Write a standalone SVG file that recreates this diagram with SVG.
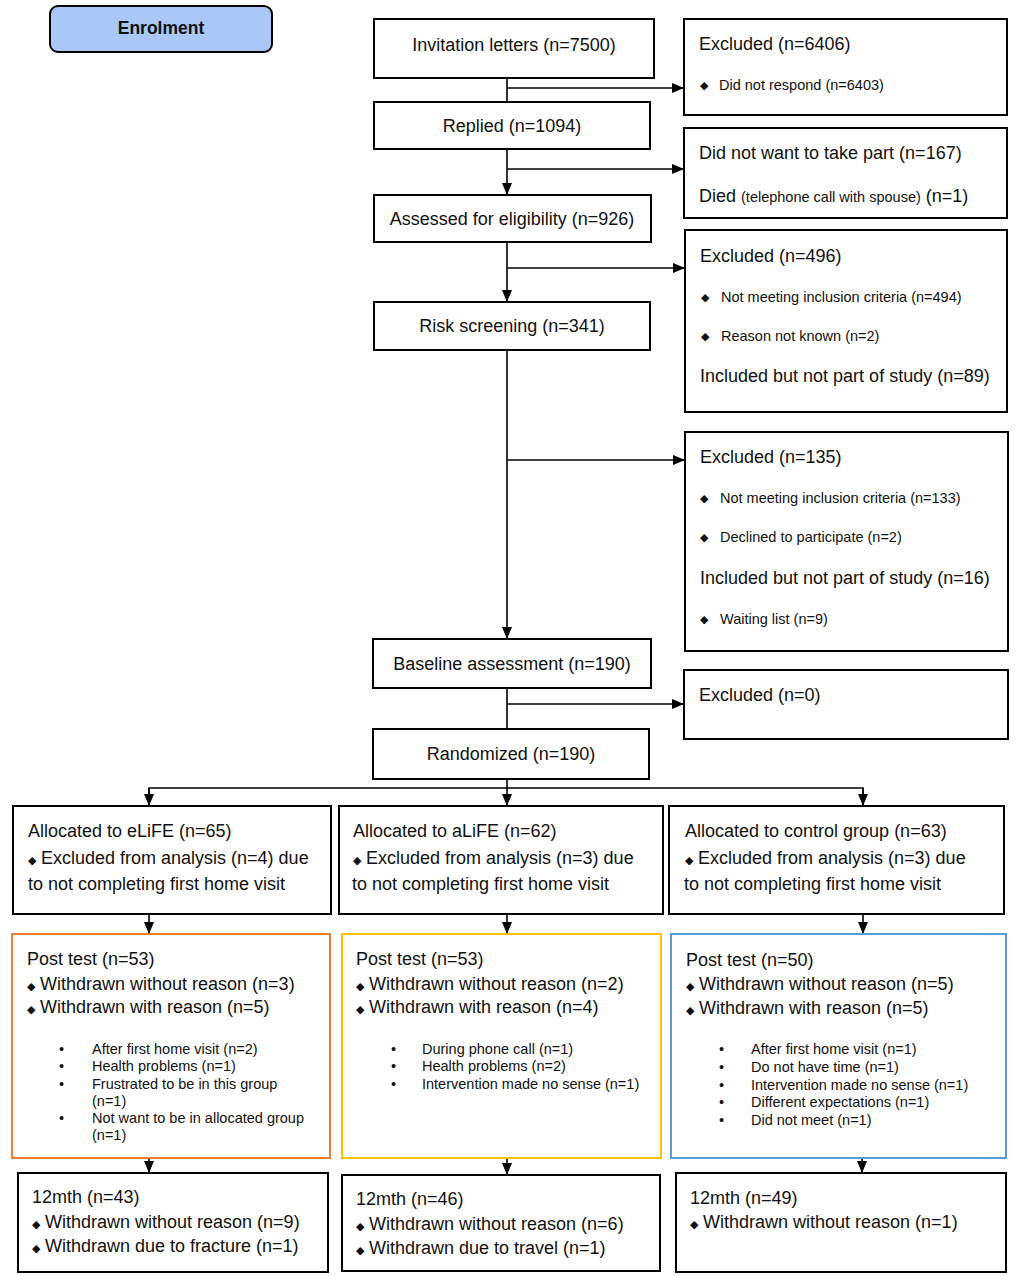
<svg xmlns="http://www.w3.org/2000/svg" width="1015" height="1276" viewBox="0 0 1015 1276">
<defs>
<marker id="arr" markerUnits="userSpaceOnUse" markerWidth="12" markerHeight="10" refX="12" refY="5" orient="auto">
<path d="M0,0 L12,5 L0,10 z" fill="#000"/>
</marker>
<style>
.box{fill:#fff;stroke:#000;stroke-width:2}
.t{font-family:"Liberation Sans",Arial,sans-serif;font-size:18px;fill:#111}
.s{font-family:"Liberation Sans",Arial,sans-serif;font-size:14.5px;fill:#111}
.d{font-size:11px}
.c{text-anchor:middle}
.ln{stroke:#000;stroke-width:1.6;fill:none}
</style>
</defs>
<rect width="1015" height="1276" fill="#fff"/>

<g id="enrolment">
<rect x="50" y="6" width="222" height="46" rx="8" fill="#a9c8f8" stroke="#000" stroke-width="2"/>
<text x="161" y="34" class="c" style="font-family:'Liberation Sans',Arial,sans-serif;font-size:17.5px;font-weight:bold;fill:#111">Enrolment</text>
</g>

<g id="connectors">
<line class="ln" x1="507" y1="78" x2="507" y2="102"/>
<line class="ln" x1="507" y1="88" x2="684" y2="88" marker-end="url(#arr)"/>
<line class="ln" x1="507" y1="149" x2="507" y2="195" marker-end="url(#arr)"/>
<line class="ln" x1="507" y1="169" x2="684" y2="169" marker-end="url(#arr)"/>
<line class="ln" x1="507" y1="242" x2="507" y2="302" marker-end="url(#arr)"/>
<line class="ln" x1="507" y1="268" x2="685" y2="268" marker-end="url(#arr)"/>
<line class="ln" x1="507" y1="350" x2="507" y2="639" marker-end="url(#arr)"/>
<line class="ln" x1="507" y1="460" x2="685" y2="460" marker-end="url(#arr)"/>
<line class="ln" x1="507" y1="688" x2="507" y2="729"/>
<line class="ln" x1="507" y1="704" x2="684" y2="704" marker-end="url(#arr)"/>
<line class="ln" x1="507" y1="779" x2="507" y2="806" marker-end="url(#arr)"/>
<polyline class="ln" points="149,806 149,788 863,788 863,806"/>
<line class="ln" x1="149" y1="788" x2="149" y2="806" marker-end="url(#arr)"/>
<line class="ln" x1="863" y1="788" x2="863" y2="806" marker-end="url(#arr)"/>
<line class="ln" x1="149" y1="914" x2="149" y2="934" marker-end="url(#arr)"/>
<line class="ln" x1="507" y1="914" x2="507" y2="934" marker-end="url(#arr)"/>
<line class="ln" x1="863" y1="914" x2="863" y2="934" marker-end="url(#arr)"/>
<line class="ln" x1="149" y1="1158" x2="149" y2="1173" marker-end="url(#arr)"/>
<line class="ln" x1="507" y1="1158" x2="507" y2="1175" marker-end="url(#arr)"/>
<line class="ln" x1="862" y1="1158" x2="862" y2="1173" marker-end="url(#arr)"/>
</g>

<g id="invitation">
<rect class="box" x="374" y="19" width="280" height="59"/>
<text class="t c" x="514" y="51">Invitation letters (n=7500)</text>
</g>
<g id="replied">
<rect class="box" x="374" y="102" width="276" height="47"/>
<text class="t c" x="512" y="132">Replied (n=1094)</text>
</g>
<g id="assessed">
<rect class="box" x="374" y="195" width="277" height="47"/>
<text class="t c" x="512" y="225">Assessed for eligibility (n=926)</text>
</g>
<g id="risk">
<rect class="box" x="374" y="302" width="276" height="48"/>
<text class="t c" x="512" y="332">Risk screening (n=341)</text>
</g>
<g id="baseline">
<rect class="box" x="373" y="639" width="278" height="49"/>
<text class="t c" x="512" y="670">Baseline assessment (n=190)</text>
</g>
<g id="randomized">
<rect class="box" x="373" y="729" width="276" height="50"/>
<text class="t c" x="511" y="760">Randomized (n=190)</text>
</g>

<g id="excl6406">
<rect class="box" x="684" y="19" width="323" height="96"/>
<text class="t" x="699" y="50">Excluded (n=6406)</text>
<text class="s d" x="700" y="89">◆</text>
<text class="s" x="719" y="90">Did not respond (n=6403)</text>
</g>
<g id="didnotwant">
<rect class="box" x="684" y="128" width="323" height="90"/>
<text class="t" x="699" y="159">Did not want to take part (n=167)</text>
<text class="t" x="699" y="202">Died <tspan style="font-size:14.5px">(telephone call with spouse)</tspan> (n=1)</text>
</g>
<g id="excl496">
<rect class="box" x="685" y="230" width="322" height="182"/>
<text class="t" x="700" y="262">Excluded (n=496)</text>
<text class="s d" x="701" y="301">◆</text>
<text class="s" x="721" y="302">Not meeting inclusion criteria (n=494)</text>
<text class="s d" x="701" y="340">◆</text>
<text class="s" x="721" y="341">Reason not known (n=2)</text>
<text class="t" x="700" y="382">Included but not part of study (n=89)</text>
</g>
<g id="excl135">
<rect class="box" x="685" y="432" width="323" height="219"/>
<text class="t" x="700" y="463">Excluded (n=135)</text>
<text class="s d" x="700" y="502">◆</text>
<text class="s" x="720" y="503">Not meeting inclusion criteria (n=133)</text>
<text class="s d" x="700" y="541">◆</text>
<text class="s" x="720" y="542">Declined to participate (n=2)</text>
<text class="t" x="700" y="584">Included but not part of study (n=16)</text>
<text class="s d" x="700" y="623">◆</text>
<text class="s" x="720" y="624">Waiting list (n=9)</text>
</g>
<g id="excl0">
<rect class="box" x="684" y="670" width="324" height="69"/>
<text class="t" x="699" y="701">Excluded (n=0)</text>
</g>

<g id="alloc-elife">
<rect class="box" x="13" y="806" width="318" height="108"/>
<text class="t" x="28" y="837">Allocated to eLiFE (n=65)</text>
<text class="t" x="28" y="864"><tspan class="d">◆</tspan> Excluded from analysis (n=4) due</text>
<text class="t" x="28" y="890">to not completing first home visit</text>
</g>
<g id="alloc-alife">
<rect class="box" x="339" y="806" width="324" height="108"/>
<text class="t" x="353" y="837">Allocated to aLiFE (n=62)</text>
<text class="t" x="353" y="864"><tspan class="d">◆</tspan> Excluded from analysis (n=3) due</text>
<text class="t" x="352" y="890">to not completing first home visit</text>
</g>
<g id="alloc-control">
<rect class="box" x="669" y="806" width="335" height="108"/>
<text class="t" x="685" y="837">Allocated to control group (n=63)</text>
<text class="t" x="685" y="864"><tspan class="d">◆</tspan> Excluded from analysis (n=3) due</text>
<text class="t" x="684" y="890">to not completing first home visit</text>
</g>

<g id="post-elife">
<rect x="12" y="934" width="318" height="224" fill="#fff" stroke="#ed7d31" stroke-width="2"/>
<text class="t" x="27" y="965">Post test (n=53)</text>
<text class="t" x="27" y="990"><tspan class="d">◆</tspan> Withdrawn without reason (n=3)</text>
<text class="t" x="27" y="1013"><tspan class="d">◆</tspan> Withdrawn with reason (n=5)</text>
<text class="s" x="59" y="1054">•</text><text class="s" x="92" y="1054">After first home visit (n=2)</text>
<text class="s" x="59" y="1071">•</text><text class="s" x="92" y="1071">Health problems (n=1)</text>
<text class="s" x="59" y="1089">•</text><text class="s" x="92" y="1089">Frustrated to be in this group</text>
<text class="s" x="92" y="1106">(n=1)</text>
<text class="s" x="59" y="1123">•</text><text class="s" x="92" y="1123">Not want to be in allocated group</text>
<text class="s" x="92" y="1140">(n=1)</text>
</g>
<g id="post-alife">
<rect x="342" y="934" width="319" height="224" fill="#fff" stroke="#ffc000" stroke-width="2"/>
<text class="t" x="356" y="965">Post test (n=53)</text>
<text class="t" x="356" y="990"><tspan class="d">◆</tspan> Withdrawn without reason (n=2)</text>
<text class="t" x="356" y="1013"><tspan class="d">◆</tspan> Withdrawn with reason (n=4)</text>
<text class="s" x="391" y="1054">•</text><text class="s" x="422" y="1054">During phone call (n=1)</text>
<text class="s" x="391" y="1071">•</text><text class="s" x="422" y="1071">Health problems (n=2)</text>
<text class="s" x="391" y="1089">•</text><text class="s" x="422" y="1089">Intervention made no sense (n=1)</text>
</g>
<g id="post-control">
<rect x="671" y="934" width="335" height="224" fill="#fff" stroke="#5b9bd5" stroke-width="2"/>
<text class="t" x="686" y="966">Post test (n=50)</text>
<text class="t" x="686" y="990"><tspan class="d">◆</tspan> Withdrawn without reason (n=5)</text>
<text class="t" x="686" y="1014"><tspan class="d">◆</tspan> Withdrawn with reason (n=5)</text>
<text class="s" x="719" y="1054">•</text><text class="s" x="751" y="1054">After first home visit (n=1)</text>
<text class="s" x="719" y="1072">•</text><text class="s" x="751" y="1072">Do not have time (n=1)</text>
<text class="s" x="719" y="1090">•</text><text class="s" x="751" y="1090">Intervention made no sense (n=1)</text>
<text class="s" x="719" y="1107">•</text><text class="s" x="751" y="1107">Different expectations (n=1)</text>
<text class="s" x="719" y="1125">•</text><text class="s" x="751" y="1125">Did not meet (n=1)</text>
</g>

<g id="m12-elife">
<rect class="box" x="18" y="1173" width="310" height="99"/>
<text class="t" x="32" y="1203">12mth (n=43)</text>
<text class="t" x="32" y="1228"><tspan class="d">◆</tspan> Withdrawn without reason (n=9)</text>
<text class="t" x="32" y="1252"><tspan class="d">◆</tspan> Withdrawn due to fracture (n=1)</text>
</g>
<g id="m12-alife">
<rect class="box" x="342" y="1175" width="318" height="96"/>
<text class="t" x="356" y="1205">12mth (n=46)</text>
<text class="t" x="356" y="1230"><tspan class="d">◆</tspan> Withdrawn without reason (n=6)</text>
<text class="t" x="356" y="1254"><tspan class="d">◆</tspan> Withdrawn due to travel (n=1)</text>
</g>
<g id="m12-control">
<rect class="box" x="676" y="1173" width="330" height="99"/>
<text class="t" x="690" y="1204">12mth (n=49)</text>
<text class="t" x="690" y="1228"><tspan class="d">◆</tspan> Withdrawn without reason (n=1)</text>
</g>
</svg>
